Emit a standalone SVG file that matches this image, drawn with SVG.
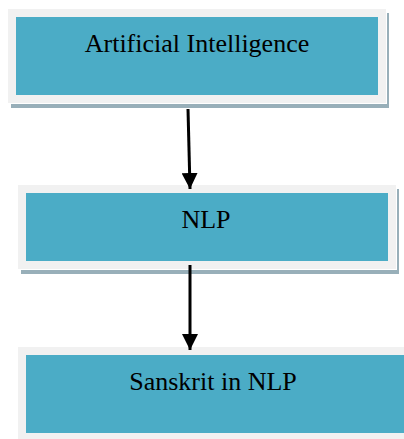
<svg xmlns="http://www.w3.org/2000/svg" width="404" height="439" viewBox="0 0 404 439">
  <defs>
    <style>
      .shadow { fill: #98afb9; }
      .gap { fill: #ffffff; }
      .outer { fill: #f1f1f1; }
      .inner { fill: #4bacc6; }
      .label { font-family: "Liberation Serif", "Times New Roman", serif; font-size: 26px; fill: #000000; text-anchor: middle; }
      .conn { stroke: #000000; stroke-width: 3; fill: none; }
    </style>
    <marker id="arrow" viewBox="0 0 16 16" refX="16" refY="8" markerWidth="16" markerHeight="16" markerUnits="userSpaceOnUse" orient="auto">
      <path d="M0,0 L16,8 L0,16 Z" fill="#000000"/>
    </marker>
  </defs>
  <rect width="404" height="439" fill="#ffffff"/>

  <g id="node-ai">
    <rect class="shadow" x="11" y="13" width="378" height="95"/>
    <rect class="gap" x="8" y="9" width="379" height="95"/>
    <rect class="outer" x="8" y="9" width="378" height="94"/>
    <rect class="inner" x="16" y="17" width="362" height="78"/>
    <text class="label" x="197" y="52">Artificial Intelligence</text>
  </g>

  <g id="node-nlp">
    <rect class="shadow" x="21" y="189" width="378" height="85"/>
    <rect class="gap" x="18" y="185" width="379" height="85"/>
    <rect class="outer" x="18" y="185" width="378" height="84"/>
    <rect class="inner" x="26" y="193" width="362" height="68"/>
    <text class="label" x="206" y="228">NLP</text>
  </g>

  <g id="node-sanskrit">
    <rect class="outer" x="18" y="347" width="400" height="100"/>
    <rect class="inner" x="26" y="355" width="390" height="78"/>
    <text class="label" x="213" y="390">Sanskrit in NLP</text>
  </g>

  <g id="connectors">
    <line class="conn" x1="188" y1="109" x2="190" y2="189" marker-end="url(#arrow)"/>
    <line class="conn" x1="190" y1="265" x2="190" y2="350" marker-end="url(#arrow)"/>
  </g>
</svg>
